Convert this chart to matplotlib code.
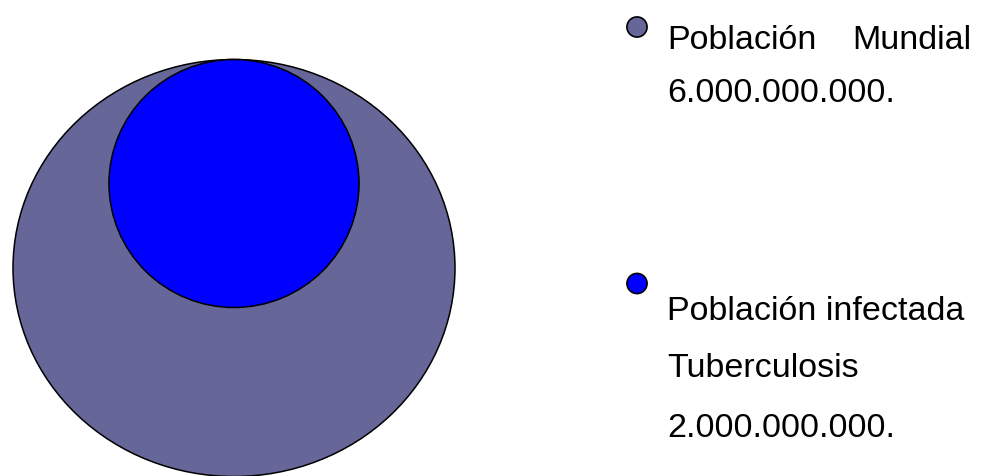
import numpy as np
import matplotlib.pyplot as plt
from matplotlib.patches import Ellipse

# data
labels = ['Población Mundial', 'Población infectada Tuberculosis']
populations = [6000000000, 2000000000]
value_text = ['6.000.000.000.', '2.000.000.000.']
colors = ['#666699', '#0000ff']

FONT = 'Liberation Sans'
FS = 24.5

fig = plt.figure(figsize=(9.81, 4.76), dpi=100)
ax = fig.add_axes([0, 0, 1, 1])
ax.set_xlim(0, 981)
ax.set_ylim(476, 0)
ax.axis('off')

# nested circles, area proportional to population, top aligned
cx, top = 234, 59.5
kx = 221 / np.sqrt(max(populations))
ky = 208.5 / np.sqrt(max(populations))
for val, col in zip(populations, colors):
    rx = kx * np.sqrt(val) * (1.0 if val == max(populations) else 0.98)
    ry = ky * np.sqrt(val) * (1.0 if val == max(populations) else 1.03)
    ax.add_patch(Ellipse((cx, top + ry), 2 * rx, 2 * ry, facecolor=col,
                         edgecolor='black', linewidth=1.1))

# legend
ax.scatter([637, 637], [27, 283.5], s=14.5 ** 2, c=colors,
           edgecolors='black', linewidths=1.2, zorder=3)

tx = 667
first, second = labels[0].split(' ')
ax.text(tx, 49.3, first, fontsize=FS, family=FONT, va='baseline')
ax.text(971, 49.3, second, fontsize=FS, family=FONT, va='baseline', ha='right')
ax.text(tx, 101.7, value_text[0], fontsize=FS, family=FONT, va='baseline')

ax.text(tx, 320, 'Población infectada', fontsize=FS, family=FONT, va='baseline')
ax.text(tx, 377.3, 'Tuberculosis', fontsize=FS, family=FONT, va='baseline')
ax.text(tx, 436.7, value_text[1], fontsize=FS, family=FONT, va='baseline')

fig.savefig('out.png', dpi=100, facecolor='white')
